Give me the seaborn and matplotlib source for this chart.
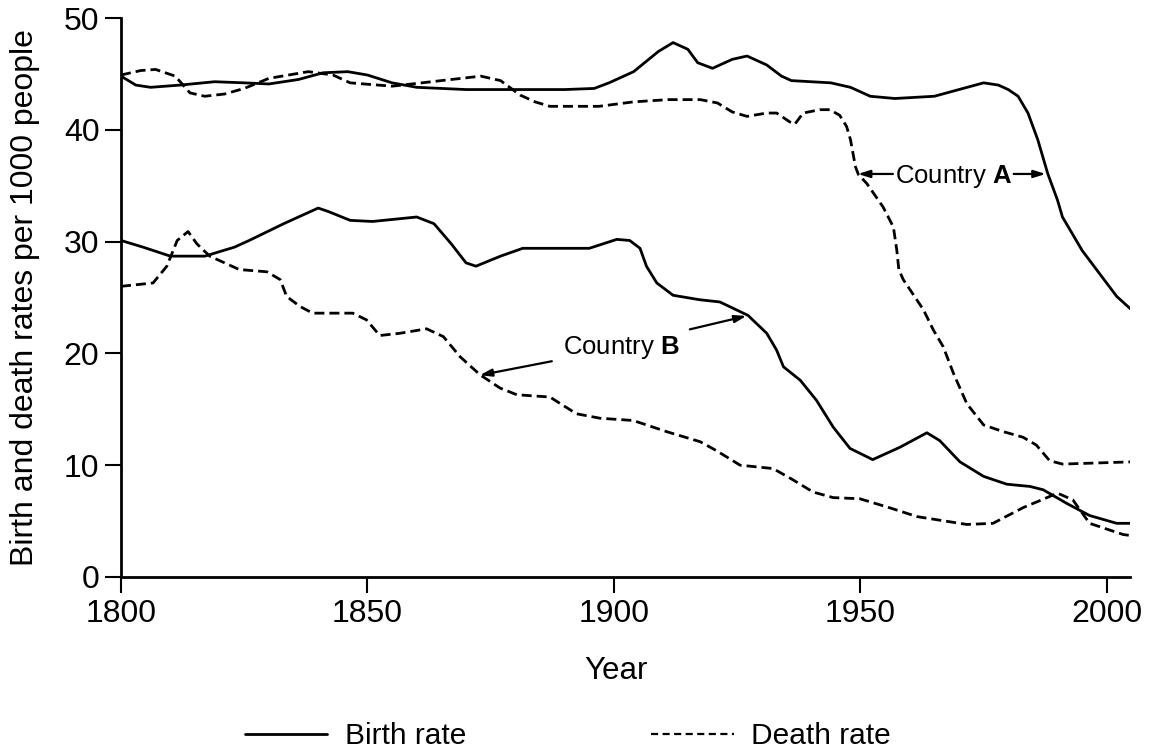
import matplotlib
matplotlib.use("Agg")
import matplotlib.pyplot as plt
import seaborn as sns
import pandas as pd
from matplotlib.lines import Line2D

# ---------------- data ----------------
a_birth_year = [1800, 1803, 1806, 1812, 1819, 1825, 1830, 1836, 1841, 1846, 1850, 1855, 1860, 1870,
                1880, 1890, 1896, 1899, 1904, 1909, 1912, 1915, 1917, 1920, 1924, 1927, 1931, 1934,
                1936, 1944, 1948, 1952, 1957, 1965, 1970, 1975, 1978, 1980, 1982, 1984, 1986, 1988,
                1990, 1991, 1995, 2002, 2005]
a_birth_rate = [44.8, 44.0, 43.8, 44.0, 44.3, 44.2, 44.1, 44.5, 45.1, 45.2, 44.9, 44.2, 43.8, 43.6,
                43.6, 43.6, 43.7, 44.2, 45.2, 47.0, 47.8, 47.2, 46.0, 45.5, 46.3, 46.6, 45.8, 44.8,
                44.4, 44.2, 43.8, 43.0, 42.8, 43.0, 43.6, 44.2, 44.0, 43.6, 43.0, 41.5, 39.1, 36.1,
                33.7, 32.2, 29.2, 25.1, 23.9]

a_death_year = [1800, 1804, 1807, 1811, 1814, 1817, 1821, 1825, 1830, 1838, 1843, 1846.5, 1855, 1863,
                1873, 1877, 1881, 1884, 1887, 1897, 1904, 1911, 1917.5, 1921, 1924, 1927, 1931, 1933,
                1935.7, 1936.7, 1938.4, 1941.8, 1943.8, 1945.8, 1947.2, 1948, 1948.5, 1949, 1949.6,
                1951.3, 1954.6, 1956.7, 1957.4, 1957.8, 1958.7, 1962.8, 1964.8, 1966.8, 1968.9,
                1971.6, 1975, 1979, 1983, 1985.7, 1988.4, 1991, 2005]
a_death_rate = [44.9, 45.3, 45.4, 44.8, 43.3, 43.0, 43.2, 43.7, 44.6, 45.2, 44.9, 44.2, 43.9, 44.3,
                44.8, 44.4, 43.1, 42.5, 42.1, 42.1, 42.5, 42.7, 42.7, 42.4, 41.6, 41.2, 41.5, 41.5,
                40.7, 40.5, 41.5, 41.8, 41.8, 41.3, 40.3, 39.1, 37.9, 36.7, 36.0,
                35.2, 33.1, 31.3, 29.2, 27.5, 26.6, 23.9, 22.1, 20.6, 18.2,
                15.5, 13.6, 13.0, 12.5, 11.8, 10.4, 10.1, 10.3]

b_birth_year = [1800, 1804.5, 1810, 1817, 1823, 1826, 1833, 1840, 1842, 1846.5, 1851, 1860, 1863.5,
                1867, 1870, 1872, 1877, 1881.5, 1890, 1895, 1900.6, 1903.2, 1905.3, 1906.6, 1908.7,
                1912, 1917.4, 1921.5, 1927.2, 1931, 1933, 1934.4, 1937.8, 1941.1, 1944.5, 1947.9,
                1952.5, 1958, 1963.5, 1966.1, 1970.2, 1975, 1979.7, 1984.4, 1987.1, 1991.8, 1996.5,
                2002, 2005]
b_birth_rate = [30.1, 29.5, 28.7, 28.7, 29.5, 30.1, 31.6, 33.0, 32.7, 31.9, 31.8, 32.2, 31.6,
                29.8, 28.1, 27.8, 28.7, 29.4, 29.4, 29.4, 30.2, 30.1, 29.4, 27.8, 26.3,
                25.2, 24.8, 24.6, 23.4, 21.8, 20.3, 18.8, 17.6, 15.8, 13.4, 11.5,
                10.5, 11.6, 12.9, 12.2, 10.3, 9.0, 8.3, 8.1, 7.8, 6.6, 5.5,
                4.8, 4.8]

b_death_year = [1800, 1806.5, 1809.3, 1811.4, 1813.6, 1815.4, 1818, 1824, 1829.6, 1832.3, 1833.6,
                1836.3, 1838.9, 1847, 1849.8, 1852.5, 1856.6, 1862, 1865.4, 1868.8, 1872.8, 1876.9,
                1880.3, 1887, 1892.4, 1897.2, 1903.9, 1910.7, 1917.5, 1920.8, 1925.6, 1932.3,
                1936.3, 1940.4, 1944.5, 1949.9, 1956.6, 1961.5, 1971.6, 1976.9, 1983, 1990, 1993.1,
                1996.5, 2003.3, 2005]
b_death_rate = [26.0, 26.3, 27.8, 30.1, 30.9, 29.8, 28.7, 27.5, 27.3, 26.6, 25.1,
                24.2, 23.6, 23.6, 23.0, 21.6, 21.8, 22.2, 21.5, 19.7, 18.1, 16.9,
                16.3, 16.1, 14.6, 14.2, 14.0, 13.0, 12.1, 11.3, 10.0, 9.7,
                8.7, 7.6, 7.1, 7.0, 6.1, 5.4, 4.7, 4.8, 6.2, 7.5, 6.9,
                4.8, 3.8, 3.7]

x_ticks = [1800, 1850, 1900, 1950, 2000]
y_ticks = [0, 10, 20, 30, 40, 50]
legend_labels = ["Birth rate", "Death rate"]

# ---------------- style ----------------
sns.set_style("ticks")
plt.rcParams["font.family"] = ["Liberation Sans", "DejaVu Sans"]
plt.rcParams["mathtext.fontset"] = "custom"
plt.rcParams["mathtext.rm"] = "Liberation Sans"
plt.rcParams["mathtext.bf"] = "Liberation Sans:bold"
plt.rcParams["text.color"] = "black"
plt.rcParams["axes.labelcolor"] = "black"
plt.rcParams["xtick.color"] = "black"
plt.rcParams["ytick.color"] = "black"
plt.rcParams["lines.solid_joinstyle"] = "round"
plt.rcParams["lines.dash_joinstyle"] = "round"

W, H = 1149, 754
fig = plt.figure(figsize=(W / 100, H / 100), dpi=100)
fig.patch.set_facecolor("white")
ax = fig.add_axes([121 / W, 1 - 577 / H, (1130 - 121) / W, (577 - 18) / H])
ax.set_facecolor("white")

LW = 2.0
DASH = (0, (3.6, 1.8))
sns.lineplot(x=a_birth_year, y=a_birth_rate, ax=ax, color="black", linewidth=LW,
             estimator=None, sort=False)
sns.lineplot(x=a_death_year, y=a_death_rate, ax=ax, color="black", linewidth=LW,
             linestyle=DASH, estimator=None, sort=False)
sns.lineplot(x=b_birth_year, y=b_birth_rate, ax=ax, color="black", linewidth=LW,
             estimator=None, sort=False)
sns.lineplot(x=b_death_year, y=b_death_rate, ax=ax, color="black", linewidth=LW,
             linestyle=DASH, estimator=None, sort=False)

ax.set_xlim(1800, 2004.7)
ax.set_ylim(0, 50)
ax.set_xticks(x_ticks)
ax.set_yticks(y_ticks)
ax.tick_params(axis="both", direction="out", length=11.5, width=1.5, color="black",
               labelsize=23, labelcolor="black")
ax.tick_params(axis="x", pad=4)
ax.tick_params(axis="y", pad=4)
for s in ["top", "right"]:
    ax.spines[s].set_visible(False)
for s in ["left", "bottom"]:
    ax.spines[s].set_linewidth(2.0)
    ax.spines[s].set_color("black")

ax.set_xlabel("Year", fontsize=22.5, color="black")
ax.xaxis.set_label_coords((616 - 121) / (1130 - 121), -(671 - 577) / (577 - 18))
ax.xaxis.label.set_verticalalignment("center")
ax.set_ylabel("Birth and death rates per 1000 people", fontsize=23, color="black")
ax.yaxis.set_label_coords(-(121 - 25) / (1130 - 121), 0.5)
ax.yaxis.label.set_verticalalignment("center")

# ---------------- annotations ----------------
arrow = dict(arrowstyle="-|>,head_length=0.7,head_width=0.22", color="black", lw=1.6,
             shrinkA=0, shrinkB=0)
ax.text(1968.9, 35.25, r"Country $\mathbf{A}$", ha="center", va="baseline", fontsize=18.5,
        color="black")
ax.annotate("", xy=(1949.5, 36.05), xytext=(1956.6, 36.05), arrowprops=arrow)
ax.annotate("", xy=(1987.6, 36.05), xytext=(1981.1, 36.05), arrowprops=arrow)

ax.text(1901.6, 19.95, r"Country $\mathbf{B}$", ha="center", va="baseline", fontsize=18.5,
        color="black")
ax.annotate("", xy=(1926.9, 23.35), xytext=(1915.4, 22.15), arrowprops=arrow)
ax.annotate("", xy=(1872.8, 18.05), xytext=(1887.4, 19.3), arrowprops=arrow)

# ---------------- legend ----------------
handles = [Line2D([], [], color="black", linewidth=LW),
           Line2D([], [], color="black", linewidth=LW * 0.8, linestyle=(0, (3.2, 2.0)))]
leg = fig.legend(handles, legend_labels, loc="center", bbox_to_anchor=(568 / W, 1 - 736 / H),
                 ncol=2, frameon=False, fontsize=21.5, handlelength=2.75, handletextpad=0.6,
                 columnspacing=6.2)
for t in leg.get_texts():
    t.set_color("black")

fig.savefig("out.png", dpi=100, facecolor="white")
